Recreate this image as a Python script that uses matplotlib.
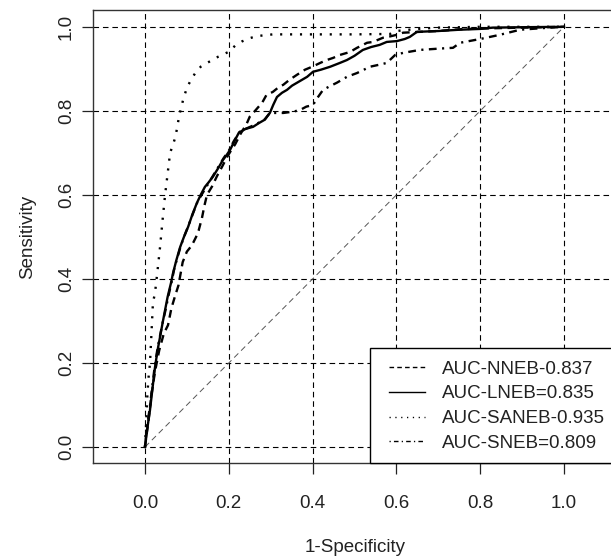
import matplotlib
matplotlib.use("Agg")
import matplotlib.pyplot as plt
from matplotlib.patches import Rectangle

plt.rcParams['font.family'] = ['Liberation Sans', 'DejaVu Sans']

# ---- data ----
labels = ["AUC-NNEB-0.837", "AUC-LNEB=0.835", "AUC-SANEB-0.935", "AUC-SNEB=0.809"]

nneb_fpr = [0, 0.008, 0.015, 0.024, 0.034, 0.045, 0.055, 0.063, 0.072, 0.08, 0.09, 0.10, 0.112, 0.122,
            0.128, 0.136, 0.142, 0.148, 0.16, 0.172, 0.184, 0.196, 0.205, 0.215, 0.228, 0.243, 0.25,
            0.26, 0.267, 0.28, 0.29, 0.305, 0.32, 0.33, 0.345, 0.363, 0.382, 0.399, 0.418, 0.434,
            0.449, 0.465, 0.489, 0.506, 0.53, 0.544, 0.568, 0.58, 0.601, 0.616, 0.656, 0.70, 0.75,
            0.8, 0.85, 0.9, 1.0]
nneb_tpr = [0, 0.06, 0.12, 0.18, 0.23, 0.27, 0.29, 0.33, 0.36, 0.385, 0.44, 0.465, 0.48, 0.5,
            0.515, 0.545, 0.575, 0.6, 0.62, 0.645, 0.667, 0.69, 0.705, 0.72, 0.745, 0.77, 0.786,
            0.797, 0.805, 0.82, 0.838, 0.845, 0.857, 0.862, 0.874, 0.886, 0.898, 0.905, 0.914, 0.921,
            0.926, 0.933, 0.94, 0.95, 0.962, 0.964, 0.974, 0.976, 0.981, 0.986, 0.988, 0.99, 0.994,
            0.996, 0.997, 0.998, 1.0]

lneb_fpr = [0, 0.005, 0.012, 0.018, 0.024, 0.03, 0.036, 0.042, 0.048, 0.054, 0.062, 0.067, 0.075,
            0.084, 0.093, 0.103, 0.113, 0.124, 0.133, 0.143, 0.152, 0.162, 0.175, 0.186, 0.195, 0.203,
            0.212, 0.224, 0.24, 0.258, 0.272, 0.286, 0.298, 0.306, 0.315, 0.327, 0.339, 0.351, 0.363,
            0.375, 0.387, 0.401, 0.42, 0.442, 0.465, 0.482, 0.50, 0.52, 0.54, 0.56, 0.577, 0.601,
            0.62, 0.632, 0.649, 0.70, 0.749, 0.80, 0.83, 0.9, 1.0]
lneb_tpr = [0, 0.04, 0.088, 0.14, 0.19, 0.23, 0.262, 0.295, 0.326, 0.357, 0.39, 0.414, 0.445,
            0.476, 0.5, 0.524, 0.553, 0.581, 0.6, 0.619, 0.63, 0.643, 0.664, 0.683, 0.695, 0.707,
            0.725, 0.748, 0.757, 0.762, 0.771, 0.779, 0.795, 0.814, 0.833, 0.843, 0.85, 0.86, 0.867,
            0.874, 0.881, 0.893, 0.898, 0.905, 0.914, 0.921, 0.931, 0.945, 0.952, 0.957, 0.964, 0.966,
            0.971, 0.976, 0.988, 0.99, 0.993, 0.995, 0.998, 0.999, 1.0]

saneb_fpr = [0, 0.003, 0.005, 0.008, 0.012, 0.015, 0.019, 0.024, 0.03, 0.036, 0.042, 0.048, 0.054,
             0.06, 0.067, 0.073, 0.082, 0.091, 0.1, 0.11, 0.12, 0.133, 0.15, 0.175, 0.201, 0.215,
             0.231, 0.25, 0.268, 0.305, 0.4, 0.5, 0.585, 0.6, 0.65, 0.7, 0.8, 1.0]
saneb_tpr = [0, 0.06, 0.11, 0.16, 0.2, 0.26, 0.343, 0.367, 0.42, 0.476, 0.54, 0.6, 0.65,
             0.70, 0.72, 0.739, 0.79, 0.826, 0.855, 0.874, 0.89, 0.905, 0.915, 0.929, 0.941, 0.955,
             0.965, 0.973, 0.978, 0.982, 0.982, 0.982, 0.983, 0.99, 0.995, 0.998, 1.0, 1.0]

sneb_fpr = [0, 0.005, 0.011, 0.017, 0.023, 0.03, 0.037, 0.043, 0.05, 0.056, 0.063, 0.069, 0.077,
            0.086, 0.095, 0.105, 0.115, 0.126, 0.138, 0.15, 0.162, 0.176, 0.188, 0.2, 0.212, 0.226,
            0.242, 0.258, 0.272, 0.286, 0.298, 0.33, 0.353, 0.37, 0.385, 0.401, 0.413, 0.425, 0.44,
            0.458, 0.482, 0.506, 0.537, 0.56, 0.577, 0.597, 0.616, 0.656, 0.70, 0.735, 0.752, 0.8,
            0.847, 0.895, 0.95, 1.0]
sneb_tpr = [0, 0.05, 0.09, 0.14, 0.19, 0.235, 0.27, 0.3, 0.33, 0.36, 0.39, 0.42, 0.45,
            0.48, 0.505, 0.53, 0.557, 0.585, 0.605, 0.625, 0.645, 0.668, 0.688, 0.705, 0.728, 0.75,
            0.758, 0.765, 0.772, 0.78, 0.795, 0.795, 0.798, 0.802, 0.81, 0.814, 0.833, 0.85, 0.858,
            0.867, 0.881, 0.89, 0.905, 0.91, 0.914, 0.933, 0.938, 0.945, 0.948, 0.95, 0.962, 0.971,
            0.981, 0.993, 0.997, 1.0]

ticks = [0.0, 0.2, 0.4, 0.6, 0.8, 1.0]
tick_labels = ["0.0", "0.2", "0.4", "0.6", "0.8", "1.0"]

# ---- figure ----
W, H = 611, 558
fig = plt.figure(figsize=(W / 100, H / 100), dpi=100)
ax_l, ax_r, ax_t, ax_b = 93, 616, 10, 463
aw, ah = ax_r - ax_l, ax_b - ax_t
ax = fig.add_axes([ax_l / W, 1 - ax_b / H, aw / W, ah / H])

ax.set_xlim(-0.124, 1.124)
ax.set_ylim(-0.038, 1.040)

# grid
for t in ticks:
    ax.axvline(t, color='black', lw=0.8, linestyle=(0, (5, 3.5)), zorder=1)
    ax.axhline(t, color='black', lw=0.8, linestyle=(0, (5, 3.5)), zorder=1)

# diagonal
ax.plot([0, 1], [0, 1], color='#555555', lw=0.7, linestyle=(0, (6, 4)), zorder=2)

lw = 1.7
ax.plot(nneb_fpr, nneb_tpr, color='black', lw=lw, linestyle=(0, (3.3, 2.3)), label=labels[0], zorder=3)
ax.plot(lneb_fpr, lneb_tpr, color='black', lw=lw, linestyle='-', label=labels[1], zorder=3)
ax.plot(saneb_fpr, saneb_tpr, color='black', lw=lw, linestyle=(0, (0.9, 3.3)), label=labels[2], zorder=3)
ax.plot(sneb_fpr, sneb_tpr, color='black', lw=lw, linestyle=(0, (0.9, 2.3, 3.3, 2.3)), label=labels[3], zorder=3)

ax.set_xticks(ticks)
ax.set_xticklabels(tick_labels)
ax.set_yticks(ticks)
ax.set_yticklabels(tick_labels, rotation=90, va='center')
ax.tick_params(axis='both', direction='out', length=8, width=0.9, labelsize=13.5, colors='#222222')
ax.tick_params(axis='x', pad=15)
ax.tick_params(axis='y', pad=5)

for s in ax.spines.values():
    s.set_color('#333333')
    s.set_linewidth(1.0)

ax.set_xlabel("1-Specificity", fontsize=13.5, color='#222222', va='center')
ax.xaxis.set_label_coords((355 - ax_l) / aw, -(547 - ax_b) / ah)
ax.set_ylabel("Sensitivity", fontsize=13.5, color='#222222', va='center')
ax.yaxis.set_label_coords(-(ax_l - 28) / aw, 0.5)

# legend box (R style, touching the bottom-right of the plot region)
box = Rectangle(((370 - ax_l) / aw, 0.0), 1.2, (ax_b - 348) / ah, transform=ax.transAxes,
                facecolor='white', edgecolor='black', lw=1.0, zorder=4, clip_on=False)
ax.add_patch(box)

leg = ax.legend(loc='lower right', bbox_to_anchor=(1.0, 0.0), borderaxespad=0,
                frameon=False, fontsize=13.5,
                handlelength=1.9, handletextpad=0.9, borderpad=0.6, labelspacing=0.4)
leg.set_zorder(5)
for line in leg.get_lines():
    line.set_linewidth(1.0)
for t in leg.get_texts():
    t.set_color('#222222')

fig.savefig("out.png", dpi=100, facecolor='white')
